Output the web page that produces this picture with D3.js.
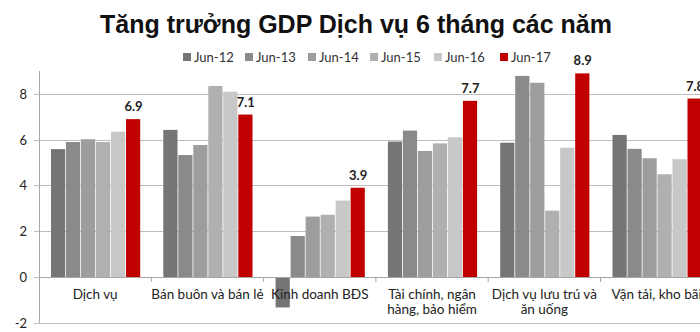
<!DOCTYPE html>
<html><head><meta charset="utf-8">
<script src="https://cdn.jsdelivr.net/npm/d3@7"></script>
<style>body{margin:0;background:#fff;}svg{display:block;}</style>
</head><body>
<script>
const categories = [["Dịch vụ"], ["Bán buôn và bán lẻ"], ["Kinh doanh BĐS"], ["Tài chính, ngân", "hàng, bảo hiểm"], ["Dịch vụ lưu trú và", "ăn uống"], ["Vận tải, kho bãi"]];
const series = ["Jun-12", "Jun-13", "Jun-14", "Jun-15", "Jun-16", "Jun-17"];
const jun12 = [5.59, 6.43, -1.33, 5.92, 5.87, 6.21];
const jun13 = [5.90, 5.33, 1.79, 6.40, 8.79, 5.60];
const jun14 = [6.02, 5.77, 2.64, 5.51, 8.49, 5.19];
const jun15 = [5.90, 8.35, 2.72, 5.84, 2.90, 4.49];
const jun16 = [6.35, 8.10, 3.34, 6.11, 5.65, 5.15];
const jun17 = [6.9, 7.1, 3.9, 7.7, 8.9, 7.8];
const yTicks = [-2, 0, 2, 4, 6, 8];
const colors = ["#757575", "#8a8a8a", "#9d9d9d", "#b0b0b0", "#c8c8c8", "#c00000"];
const values = [jun12, jun13, jun14, jun15, jun16, jun17];

const W = 700, H = 332;
const svg = d3.select("body").append("svg").attr("width", W).attr("height", H);
const font = "Lato, 'Open Sans', sans-serif";

svg.append("text").attr("x", 356).attr("y", 33).attr("text-anchor", "middle")
  .attr("font-family", "'Liberation Sans', Arial, sans-serif").attr("font-weight", "bold")
  .attr("font-size", 25).attr("fill", "#111").text("Tăng trưởng GDP Dịch vụ 6 tháng các năm");

const y = d3.scaleLinear().domain([-2, 9]).range([322.75, 71.1]);
const x = d3.scaleBand().domain(d3.range(categories.length)).range([39, 39 + 6 * 112.3]).padding(0);
const xs = d3.scaleBand().domain(d3.range(series.length)).range([12, 102]).padding(0);

// gridlines
svg.append("g").selectAll("line").data(yTicks).join("line")
  .attr("x1", 34).attr("x2", W).attr("y1", d => Math.round(y(d)) + 0.5).attr("y2", d => Math.round(y(d)) + 0.5)
  .attr("stroke", "#bdbdbd").attr("stroke-width", 1);

// y labels
svg.append("g").selectAll("text").data(yTicks).join("text")
  .attr("x", 27).attr("y", d => y(d) + 5).attr("text-anchor", "end")
  .attr("font-family", font).attr("font-size", 13).attr("fill", "#222").text(d => d);

// bars
const g = svg.append("g");
categories.forEach((c, i) => {
  series.forEach((s, j) => {
    const v = values[j][i];
    g.append("rect")
      .attr("x", x(i) + xs(j)).attr("width", xs.bandwidth() - 0.8)
      .attr("y", y(Math.max(0, v))).attr("height", Math.abs(y(v) - y(0)))
      .attr("fill", colors[j]);
  });
  // value label
  const v = jun17[i];
  svg.append("text").attr("x", x(i) + xs(5) + xs.bandwidth() / 2).attr("y", y(v) - 8)
    .attr("text-anchor", "middle").attr("font-family", font).attr("font-weight", "bold")
    .attr("font-size", 13).attr("fill", "#222").text(v.toFixed(1));
});

// axis lines
svg.append("line").attr("x1", 39.5).attr("x2", 39.5).attr("y1", y(9)).attr("y2", y(-2))
  .attr("stroke", "#a6a6a6");
svg.append("line").attr("x1", 39).attr("x2", W).attr("y1", Math.round(y(0)) + 0.5).attr("y2", Math.round(y(0)) + 0.5)
  .attr("stroke", "#a6a6a6");
// category ticks
svg.append("g").selectAll("line").data(d3.range(1, categories.length)).join("line")
  .attr("x1", d => x(d)).attr("x2", d => x(d)).attr("y1", y(0)).attr("y2", y(0) + 5).attr("stroke", "#a6a6a6");

// category labels
categories.forEach((c, i) => {
  const t = svg.append("text").attr("text-anchor", "middle").attr("font-family", font)
    .attr("font-size", 13.5).attr("fill", "#222");
  c.forEach((line, k) => {
    t.append("tspan").attr("x", x(i) + x.bandwidth() / 2).attr("y", 299 + k * 15).text(line);
  });
});

// legend
const lx = [183, 245, 308, 370, 434, 500];
const lg = svg.append("g");
series.forEach((s, j) => {
  lg.append("rect").attr("x", lx[j]).attr("y", 53).attr("width", 8).attr("height", 8).attr("fill", colors[j]);
  lg.append("text").attr("x", lx[j] + 11).attr("y", 62).attr("font-family", font).attr("font-size", 13)
    .attr("fill", "#333").text(s);
});
</script>
</body></html>
